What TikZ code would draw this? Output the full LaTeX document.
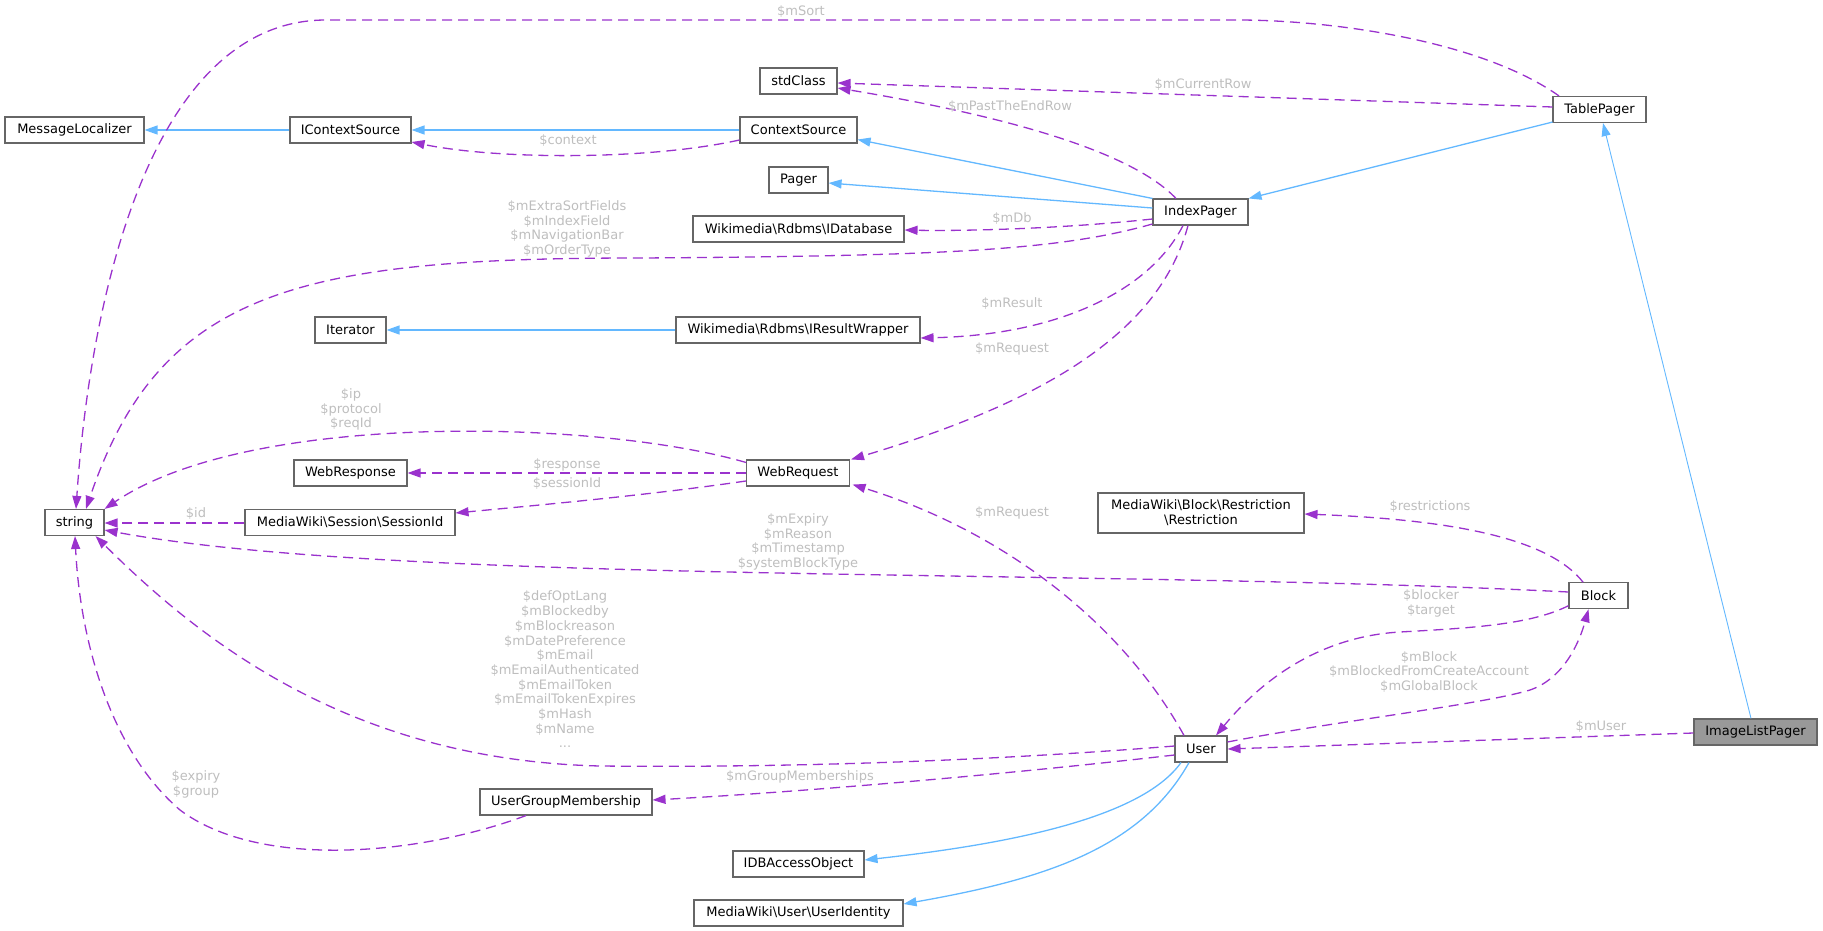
\documentclass[tikz,border=0pt]{standalone}
\usepackage{fontspec}
\setmainfont{DejaVu Sans}
\usetikzlibrary{arrows.meta}
\definecolor{inhblue}{HTML}{63B8FF}
\definecolor{usepurp}{HTML}{9A32CD}
\definecolor{lblgrey}{HTML}{BEBEBE}
\definecolor{bordgrey}{HTML}{666666}
\definecolor{hlgrey}{HTML}{999999}
\tikzset{
  cls/.style={draw=bordgrey, line width=1.1pt, fill=white, minimum height=26pt, inner xsep=3pt, inner ysep=0pt, font=\fontsize{13}{15}\selectfont, text=black, align=center},
  lab/.style={text=lblgrey, font=\fontsize{13}{14.7}\selectfont, align=center, inner sep=0pt},
  inhe/.style={draw=inhblue, line width=1.3pt, -{Triangle[length=13pt,width=9pt]}},
  usee/.style={draw=usepurp, line width=1.3pt, dash pattern=on 10pt off 6pt, -{Triangle[length=13pt,width=9pt]}},
}
\begin{document}
\begin{tikzpicture}[x=1pt,y=-1pt]
\path[use as bounding box] (0,0) rectangle (1823,931);
% nodes
\node[cls, minimum width=139] (ml) at (74.5,130) {MessageLocalizer};
\node[cls, minimum width=121] (ics) at (350.5,130) {IContextSource};
\node[cls, minimum width=117] (cs) at (798.5,130) {ContextSource};
\node[cls, minimum width=77] (std) at (798.5,81) {stdClass};
\node[cls, minimum width=59] (pager) at (798.5,180) {Pager};
\node[cls, minimum width=211] (idb) at (798.5,229) {Wikimedia\textbackslash Rdbms\textbackslash IDatabase};
\node[cls, minimum width=95] (ip) at (1200.5,212) {IndexPager};
\node[cls, minimum width=93] (tp) at (1599.5,109.5) {TablePager};
\node[cls, minimum width=71] (it) at (350.5,330) {Iterator};
\node[cls, minimum width=244] (irw) at (798,330) {Wikimedia\textbackslash Rdbms\textbackslash IResultWrapper};
\node[cls, minimum width=59] (str) at (74.5,522.5) {string};
\node[cls, minimum width=113] (wresp) at (350.5,473) {WebResponse};
\node[cls, minimum width=103] (wreq) at (798,473) {WebRequest};
\node[cls, minimum width=210] (sid) at (350,522.5) {MediaWiki\textbackslash Session\textbackslash SessionId};
\node[cls, minimum width=206, minimum height=40pt] (restr) at (1201,513) {MediaWiki\textbackslash Block\textbackslash Restriction\\\textbackslash Restriction};
\node[cls, minimum width=59] (block) at (1598.5,595.7) {Block};
\node[cls, minimum width=52] (user) at (1201,749) {User};
\node[cls, minimum width=123, fill=hlgrey] (ilp) at (1755.5,732) {ImageListPager};
\node[cls, minimum width=172] (ugm) at (566,802) {UserGroupMembership};
\node[cls, minimum width=131] (idba) at (798.5,864) {IDBAccessObject};
\node[cls, minimum width=209] (uid) at (798.5,913) {MediaWiki\textbackslash User\textbackslash UserIdentity};
% inheritance edges
\draw[inhe] (ics.west) -- (ml.east);
\draw[inhe] (cs.west) -- (ics.east);
\draw[inhe] (ip.north west) -- ([yshift=4pt]cs.south east);
\draw[inhe] ([yshift=4pt]ip.west) -- ([yshift=-3pt]pager.east);
\draw[inhe] ([yshift=1pt]tp.south west) -- (ip.north east);
\draw[inhe, line width=0.9pt] ([xshift=-4.5pt]ilp.north) -- ([xshift=3.5pt]tp.south);
\draw[inhe] (irw.west) -- (it.east);
\draw[inhe] ([xshift=-20pt]user.south) .. controls (1140,820) and (1000,845) .. ([yshift=4pt]idba.east);
\draw[inhe] ([xshift=-12pt]user.south) .. controls (1140,850) and (1040,880) .. ([yshift=9pt]uid.east);
% usage edges
\draw[usee] ([yshift=-10pt]cs.west) .. controls (650,160) and (500,160) .. ([yshift=-12pt]ics.east);
\draw[usee] ([xshift=-40.5pt]tp.north) .. controls (1480,40) and (1330,20) .. (1237,20) -- (326,20) .. controls (150,20) and (90,300) .. ([xshift=1.5pt]str.north);
\draw[usee] ([yshift=2.5pt]tp.west) -- ([yshift=-2pt]std.east);
\draw[usee] ([xshift=-24.5pt]ip.north) .. controls (1130,150) and (1000,115) .. ([yshift=-7pt]std.east);
\draw[usee] ([yshift=-7pt]ip.west) .. controls (1050,230) and (950,231) .. ([yshift=-1pt]idb.east);
\draw[usee] ([yshift=-12pt]ip.west) .. controls (1060,250) and (950,256) .. (640,258) .. controls (300,258) and (160,290) .. ([xshift=11.5pt]str.north);
\draw[usee] ([xshift=-17.5pt]ip.south) .. controls (1150,290) and (1060,335) .. ([yshift=-8pt]irw.east);
\draw[usee] ([xshift=-12.5pt]ip.south) .. controls (1160,330) and (1050,400) .. ([xshift=1pt]wreq.north east);
\draw[usee] ([yshift=-3pt]wreq.north west) .. controls (600,420) and (250,410) .. (str.north east);
\draw[usee] (wreq.west) -- (wresp.east);
\draw[usee] ([yshift=-8pt]wreq.west) .. controls (650,495) and (540,505) .. ([yshift=9.5pt]sid.east);
\draw[usee] ([yshift=-0.5pt]sid.west) -- ([yshift=-0.5pt]str.east);
\draw[usee] ([yshift=3.7pt]block.west) .. controls (1100,568) and (400,585) .. ([yshift=-7.5pt]str.east);
\draw[usee] ([xshift=-15.5pt]block.north) .. controls (1550,540) and (1460,520) .. ([yshift=-1pt]restr.east);
\draw[usee] ([yshift=-10pt]block.west) .. controls (1530,625) and (1470,628) .. (1400,632) .. controls (1330,636) and (1270,670) .. ([xshift=15pt]user.north);
\draw[usee] ([yshift=7pt]user.east) .. controls (1330,722) and (1480,705) .. (1530,690) .. controls (1565,678) and (1580,640) .. ([xshift=-10pt]block.south);
\draw[usee] ([yshift=-1pt]ilp.west) -- (user.east);
\draw[usee] ([xshift=-17pt]user.north) .. controls (1120,620) and (1000,530) .. ([xshift=2.5pt,yshift=2pt]wreq.south east);
\draw[usee] ([yshift=3pt]user.west) .. controls (1000,760) and (800,768) .. (600,766) .. controls (350,760) and (200,640) .. ([xshift=-9pt]str.south east);
\draw[usee] ([yshift=-6pt]user.west) .. controls (1000,775) and (800,792) .. ([yshift=2pt]ugm.east);
\draw[usee] ([xshift=-40pt]ugm.south) .. controls (420,855) and (260,870) .. (180,810) .. controls (110,750) and (80,640) .. ([xshift=0.5pt]str.south);
% labels
\node[lab] (lsort) at (801,12) {\$mSort};
\node[lab] (lctx) at (568,141) {\$context};
\node[lab] (lext) at (567,229) {\$mExtraSortFields\\\$mIndexField\\\$mNavigationBar\\\$mOrderType};
\node[lab] (lcur) at (1203,85) {\$mCurrentRow};
\node[lab] (lpast) at (1010,107) {\$mPastTheEndRow};
\node[lab] (ldb) at (1012,219) {\$mDb};
\node[lab] (lres) at (1012,304) {\$mResult};
\node[lab] (lreq1) at (1012,349) {\$mRequest};
\node[lab] (lip) at (351,409.5) {\$ip\\\$protocol\\\$reqId};
\node[lab] (lresp) at (567,465) {\$response};
\node[lab] (lsid) at (567,484) {\$sessionId};
\node[lab] (lid) at (196,514) {\$id};
\node[lab] (lexp) at (798,542) {\$mExpiry\\\$mReason\\\$mTimestamp\\\$systemBlockType};
\node[lab] (lrestr) at (1430,507) {\$restrictions};
\node[lab] (lblk) at (1431,603.5) {\$blocker\\\$target};
\node[lab] (lreq2) at (1012,513) {\$mRequest};
\node[lab] (lmblk) at (1429,672) {\$mBlock\\\$mBlockedFromCreateAccount\\\$mGlobalBlock};
\node[lab] (luser) at (1601,727) {\$mUser};
\node[lab] (ldef) at (565,669.5) {\$defOptLang\\\$mBlockedby\\\$mBlockreason\\\$mDatePreference\\\$mEmail\\\$mEmailAuthenticated\\\$mEmailToken\\\$mEmailTokenExpires\\\$mHash\\\$mName\\...};
\node[lab] (lgrp) at (800,777) {\$mGroupMemberships};
\node[lab] (lexg) at (196,784.5) {\$expiry\\\$group};
\end{tikzpicture}
\end{document}
